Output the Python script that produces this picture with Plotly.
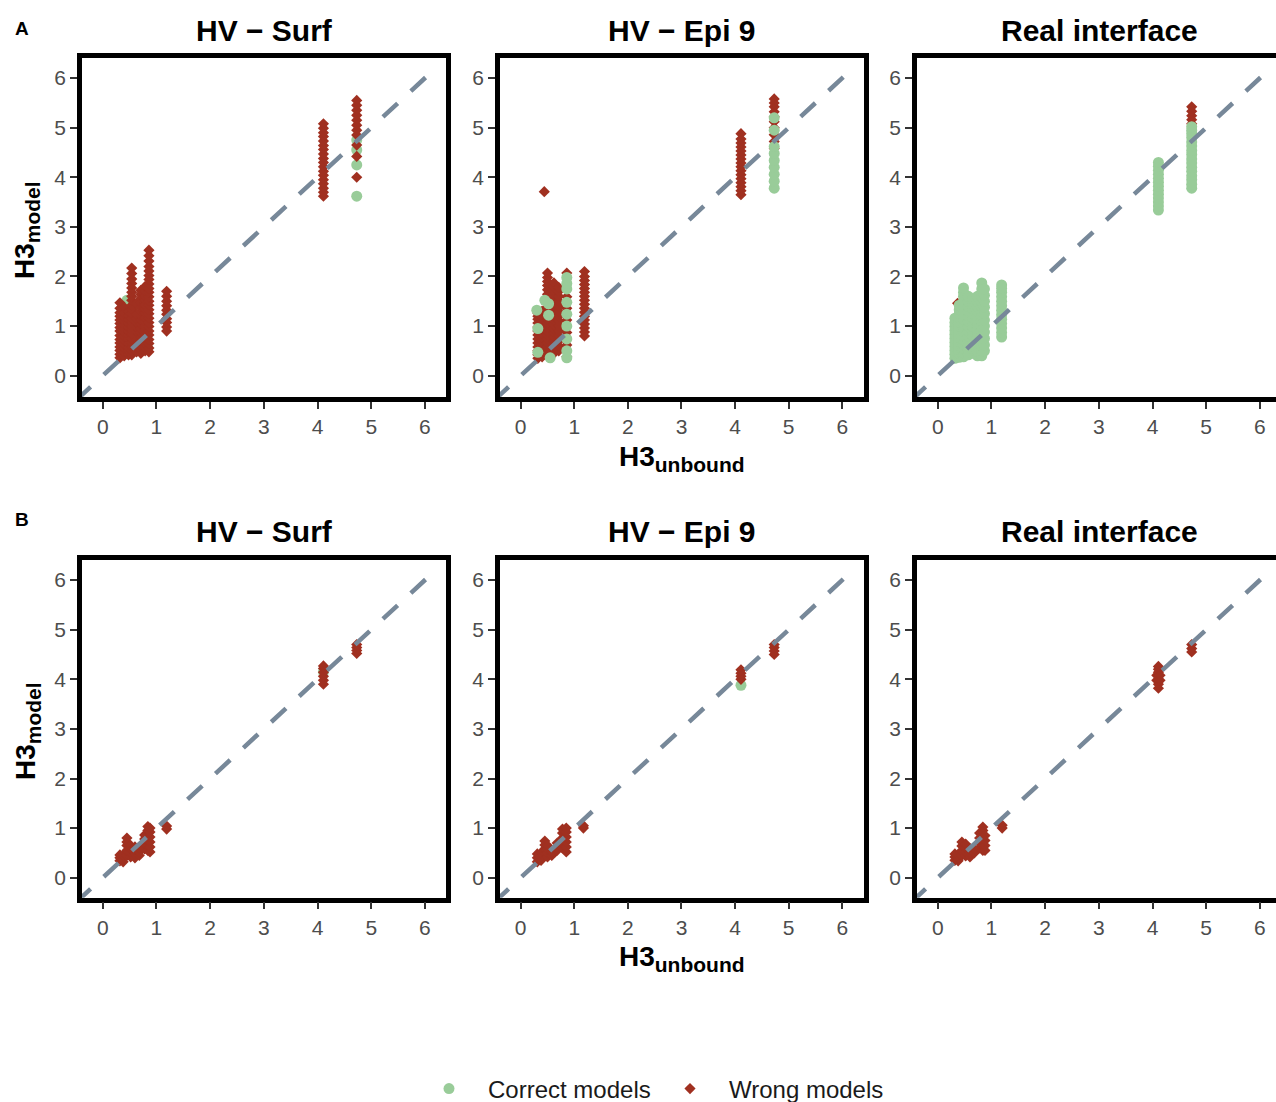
import plotly.graph_objects as go

W, H = 1276, 1102
GREEN = "#99CC99"
RED = "#A03020"
LINE = "#778899"
FONT = "Liberation Sans, Arial, sans-serif"

# ---------------- data (column x -> y values) ----------------
PANEL_TITLES = ["HV − Surf", "HV − Epi 9", "Real interface"]
ROW_LABELS = ["A", "B"]
TICKS = [0, 1, 2, 3, 4, 5, 6]
DIAG = [-0.5, 6.15]

A_SURF_CORRECT = {
    0.45: [1.52], 0.60: [1.34], 0.52: [0.95], 0.84: [0.55],
    4.73: [3.62, 4.25, 4.55, 4.75],
}
A_SURF_WRONG = {
    0.32: [0.36, 0.43, 0.51, 0.58, 0.66, 0.73, 0.81, 0.9, 0.97, 1.05, 1.12, 1.2, 1.27, 1.36, 1.47],
    0.40: [0.40, 0.47, 0.55, 0.63, 0.71, 0.8, 0.88, 0.95, 1.03, 1.1, 1.18, 1.26, 1.38],
    0.48: [0.42, 0.5, 0.57, 0.65, 0.74, 0.82, 0.9, 0.98, 1.06, 1.14, 1.22, 1.3],
    0.54: [0.42, 0.5, 0.58, 0.67, 0.75, 0.84, 0.92, 1.0, 1.08, 1.16, 1.25, 1.34, 1.42,
           1.52, 1.6, 1.68, 1.77, 1.86, 1.95, 2.06, 2.17],
    0.63: [0.48, 0.56, 0.64, 0.73, 0.81, 0.9, 0.98, 1.07, 1.15, 1.24, 1.45],
    0.71: [0.45, 0.53, 0.61, 0.7, 0.78, 0.87, 0.95, 1.04, 1.12, 1.21, 1.3, 1.38, 1.47, 1.56, 1.64, 1.72],
    0.79: [0.5, 0.58, 0.66, 0.75, 0.83, 0.92, 1.0, 1.09, 1.17, 1.26, 1.35, 1.43, 1.52, 1.6, 1.7, 1.8],
    0.86: [0.48, 0.56, 0.65, 0.73, 0.82, 0.9, 0.99, 1.07, 1.16, 1.25, 1.33, 1.42, 1.5, 1.59,
           1.68, 1.76, 1.85, 1.94, 2.02, 2.11, 2.2, 2.31, 2.42, 2.53],
    1.19: [0.9, 0.98, 1.07, 1.15, 1.24, 1.32, 1.41, 1.5, 1.6, 1.7],
    4.11: [3.62, 3.7, 3.78, 3.87, 3.95, 4.04, 4.12, 4.21, 4.3, 4.38, 4.47, 4.56, 4.64,
           4.73, 4.82, 4.9, 4.99, 5.08],
    4.73: [4.0, 4.42, 4.65, 4.85, 4.95, 5.05, 5.15, 5.25, 5.35, 5.45, 5.55],
}

A_EPI_CORRECT = {
    0.30: [1.32], 0.32: [0.47, 0.95], 0.45: [1.52], 0.52: [1.22, 1.45], 0.55: [0.36],
    0.86: [0.36, 0.5, 0.74, 1.0, 1.24, 1.48, 1.75, 1.86, 1.98],
    4.73: [3.78, 3.92, 4.06, 4.2, 4.34, 4.48, 4.62, 4.95, 5.2],
}
A_EPI_WRONG = {
    0.32: [0.35, 0.42, 0.5, 0.58, 0.66, 0.74, 0.82, 0.9, 0.98, 1.06, 1.14, 1.2, 1.26],
    0.40: [0.38, 0.46, 0.54, 0.62, 0.7, 0.78, 0.86, 0.94, 1.02, 1.1, 1.18, 1.3],
    0.44: [3.71],
    0.50: [0.42, 0.5, 0.58, 0.66, 0.74, 0.82, 0.9, 0.98, 1.06, 1.14, 1.22, 1.3, 1.38,
           1.46, 1.55, 1.64, 1.73, 1.82, 1.9, 1.98, 2.07],
    0.62: [0.45, 0.53, 0.61, 0.7, 0.78, 0.86, 0.95, 1.03, 1.12, 1.2, 1.29, 1.37, 1.46,
           1.55, 1.64, 1.72, 1.8, 1.87],
    0.71: [0.5, 0.6, 0.7, 0.8, 0.9, 1.0, 1.1, 1.2, 1.3, 1.4, 1.5, 1.6, 1.7, 1.78],
    0.86: [0.38, 0.62, 0.87, 1.12, 1.36, 1.59, 2.07],
    1.19: [0.8, 0.88, 0.96, 1.04, 1.12, 1.2, 1.28, 1.36, 1.44, 1.52, 1.6, 1.68, 1.76,
           1.84, 1.92, 2.0, 2.1],
    4.11: [3.65, 3.73, 3.81, 3.89, 3.97, 4.05, 4.13, 4.21, 4.29, 4.37, 4.45, 4.53, 4.61,
           4.69, 4.77, 4.88],
    4.73: [4.58, 4.72, 4.86, 5.0, 5.12, 5.22, 5.32, 5.42, 5.5, 5.58],
}

A_REAL_CORRECT = {
    0.32: [0.35, 0.43, 0.51, 0.59, 0.67, 0.75, 0.83, 0.91, 0.99, 1.07, 1.16],
    0.40: [0.37, 0.45, 0.53, 0.61, 0.69, 0.77, 0.85, 0.93, 1.01, 1.09, 1.17, 1.25, 1.33, 1.42],
    0.48: [0.38, 0.46, 0.55, 0.63, 0.72, 0.8, 0.89, 0.97, 1.06, 1.14, 1.23, 1.31, 1.4,
           1.5, 1.6, 1.68, 1.77],
    0.57: [0.42, 0.5, 0.6, 0.7, 0.8, 0.9, 1.0, 1.1, 1.2, 1.3, 1.4, 1.5, 1.6],
    0.65: [0.45, 0.54, 0.63, 0.72, 0.81, 0.9, 0.99, 1.08, 1.17, 1.26, 1.35, 1.45, 1.55],
    0.74: [0.4, 0.49, 0.58, 0.67, 0.76, 0.85, 0.94, 1.03, 1.12, 1.21, 1.3, 1.4, 1.5, 1.6],
    0.82: [0.4, 0.5, 0.6, 0.7, 0.8, 0.9, 1.0, 1.1, 1.2, 1.3, 1.4, 1.5, 1.6, 1.75, 1.87],
    0.87: [0.5, 0.62, 0.75, 0.88, 1.0, 1.12, 1.25, 1.38, 1.5, 1.62, 1.75],
    1.19: [0.78, 0.87, 0.96, 1.05, 1.14, 1.23, 1.32, 1.41, 1.5, 1.59, 1.68, 1.76, 1.83],
    4.11: [3.34, 3.42, 3.5, 3.58, 3.66, 3.74, 3.82, 3.9, 3.98, 4.06, 4.14, 4.22, 4.3],
    4.73: [3.78, 3.86, 3.95, 4.03, 4.12, 4.2, 4.29, 4.37, 4.46, 4.54, 4.63, 4.71, 4.8,
           4.88, 4.95, 5.02],
}
A_REAL_WRONG = {
    0.37: [1.46], 0.50: [0.4], 0.45: [0.9],
    4.73: [5.08, 5.16, 5.24, 5.33, 5.42],
}

B_SURF_CORRECT = {4.11: [4.15]}
B_SURF_WRONG = {
    0.32: [0.34, 0.4, 0.46],
    0.38: [0.32, 0.38, 0.45],
    0.45: [0.45, 0.55, 0.65, 0.72, 0.8],
    0.52: [0.42, 0.5, 0.58, 0.65],
    0.60: [0.4, 0.48, 0.56, 0.62],
    0.68: [0.45, 0.52, 0.6],
    0.78: [0.58, 0.68, 0.78, 0.86],
    0.84: [0.55, 0.65, 0.75, 0.85, 0.95, 1.03],
    0.88: [0.52, 0.62, 0.72, 0.82, 0.92, 1.0],
    1.19: [0.98, 1.04],
    4.11: [3.9, 3.98, 4.06, 4.14, 4.22, 4.27],
    4.73: [4.52, 4.58, 4.64, 4.7],
}

B_EPI_CORRECT = {4.11: [3.88]}
B_EPI_WRONG = {
    0.31: [0.32, 0.4, 0.48],
    0.38: [0.35, 0.43, 0.5],
    0.45: [0.5, 0.58, 0.66, 0.74],
    0.50: [0.42, 0.5, 0.58, 0.65],
    0.58: [0.45, 0.52],
    0.68: [0.55, 0.62, 0.7],
    0.78: [0.6, 0.7, 0.8, 0.9, 0.98],
    0.85: [0.52, 0.62, 0.72, 0.82, 0.92, 1.0],
    1.17: [1.0, 1.05],
    4.11: [4.0, 4.06, 4.12, 4.19],
    4.73: [4.5, 4.57, 4.64, 4.7],
}

B_REAL_CORRECT = {}
B_REAL_WRONG = {
    0.32: [0.35, 0.42, 0.48],
    0.38: [0.34, 0.4, 0.46],
    0.45: [0.45, 0.55, 0.64, 0.72],
    0.52: [0.44, 0.52, 0.6, 0.68],
    0.60: [0.42, 0.5, 0.58],
    0.68: [0.5, 0.58],
    0.78: [0.6, 0.7, 0.8, 0.9],
    0.84: [0.55, 0.65, 0.75, 0.85, 0.95, 1.02],
    0.88: [0.55, 0.65, 0.75, 0.85],
    1.20: [1.0, 1.06],
    4.08: [3.98, 4.08],
    4.11: [3.82, 3.9, 3.98, 4.06, 4.14, 4.2, 4.26],
    4.14: [3.98, 4.08],
    4.73: [4.55, 4.62, 4.7],
}

# draw order per panel: True -> correct drawn on top of wrong
PANELS = [
    (A_SURF_CORRECT, A_SURF_WRONG, False),
    (A_EPI_CORRECT, A_EPI_WRONG, True),
    (A_REAL_CORRECT, A_REAL_WRONG, True),
    (B_SURF_CORRECT, B_SURF_WRONG, False),
    (B_EPI_CORRECT, B_EPI_WRONG, False),
    (B_REAL_CORRECT, B_REAL_WRONG, False),
]

# ---------------- layout geometry (pixels) ----------------
X_DOM_PX = [(81.8, 446.4), (499.8, 863.7), (916.8, 1276.0)]
X_RANGES = [[-0.39, 6.40], [-0.39, 6.40], [-0.39, 6.30]]
Y_DOM_PX = [(58.0, 397.0), (559.5, 897.7)]
Y_RANGES = [[-0.43, 6.405], [-0.403, 6.415]]
PANEL_CX = [264.1, 681.7, 1099.0]


def flat(d):
    xs, ys = [], []
    for k, vals in d.items():
        for v in vals:
            xs.append(k)
            ys.append(v)
    return xs, ys


fig = go.Figure()
legend_done = {"c": False, "w": False}

for i, (corr, wrong, corr_on_top) in enumerate(PANELS):
    ax = "" if i == 0 else str(i + 1)
    xref, yref = "x" + ax, "y" + ax

    def add_corr():
        xs, ys = flat(corr)
        fig.add_trace(go.Scatter(
            x=xs, y=ys, mode="markers", name="Correct models",
            legendgroup="c", showlegend=not legend_done["c"],
            marker=dict(symbol="circle", size=11, color=GREEN, line=dict(width=0)),
            xaxis=xref, yaxis=yref, hoverinfo="skip"))
        legend_done["c"] = True

    def add_wrong():
        xs, ys = flat(wrong)
        fig.add_trace(go.Scatter(
            x=xs, y=ys, mode="markers", name="Wrong models",
            legendgroup="w", showlegend=not legend_done["w"],
            marker=dict(symbol="diamond", size=8.6, color=RED, line=dict(width=0)),
            xaxis=xref, yaxis=yref, hoverinfo="skip"))
        legend_done["w"] = True

    if i == 0:
        add_corr(); add_wrong()
    elif corr_on_top:
        add_wrong(); add_corr()
    else:
        add_corr(); add_wrong()

    fig.add_trace(go.Scatter(
        x=DIAG, y=DIAG, mode="lines", showlegend=False, hoverinfo="skip",
        line=dict(color=LINE, width=4.5, dash="20px,18px"),
        xaxis=xref, yaxis=yref))

layout = dict(
    width=W, height=H,
    margin=dict(l=0, r=0, t=0, b=0, autoexpand=False),
    paper_bgcolor="white", plot_bgcolor="white",
    font=dict(family=FONT),
    showlegend=True,
    legend=dict(orientation="h", x=410 / W, xanchor="left",
                y=1 - 1089 / H, yanchor="middle", entrywidth=158, itemwidth=68,
                font=dict(size=24, color="#1A1A1A", family=FONT),
                bgcolor="rgba(0,0,0,0)"),
)

for i in range(6):
    r, c = divmod(i, 3)
    ax = "" if i == 0 else str(i + 1)
    x0, x1 = X_DOM_PX[c]
    yt, yb = Y_DOM_PX[r]
    common = dict(showline=True, linewidth=4.5, linecolor="black",
                  ticks="outside", ticklen=7, tickwidth=2.2, tickcolor="#333333",
                  tickvals=TICKS, tickfont=dict(size=21, color="#4D4D4D", family=FONT),
                  showgrid=False, zeroline=False, fixedrange=True)
    layout["xaxis" + ax] = dict(common, domain=[x0 / W, min(1.0, x1 / W)],
                                range=X_RANGES[c], mirror=True,
                                anchor="y" + ax)
    layout["yaxis" + ax] = dict(common, domain=[1 - yb / H, 1 - yt / H],
                                range=Y_RANGES[r], mirror=(c != 2),
                                anchor="x" + ax)

fig.update_layout(**layout)

ann = []
TITLE_Y = [30, 531]
LABEL_Y = [28, 519]
YT_Y = [230, 731]
XT_Y = [458, 958]
for r in range(2):
    for c in range(3):
        ann.append(dict(text="<b>" + PANEL_TITLES[c] + "</b>", x=PANEL_CX[c] / W,
                        y=1 - TITLE_Y[r] / H, xref="paper", yref="paper",
                        showarrow=False, xanchor="center", yanchor="middle",
                        font=dict(size=30, color="black", family=FONT)))
    ann.append(dict(text="<b>" + ROW_LABELS[r] + "</b>", x=22 / W, y=1 - LABEL_Y[r] / H,
                    xref="paper", yref="paper", showarrow=False,
                    xanchor="center", yanchor="middle",
                    font=dict(size=19, color="black", family=FONT)))
    ann.append(dict(text='<b>H3<sub><span style="font-size:21px">model</span></sub></b>',
                    x=27 / W, y=1 - YT_Y[r] / H,
                    xref="paper", yref="paper", showarrow=False, textangle=-90,
                    xanchor="center", yanchor="middle",
                    font=dict(size=28, color="black", family=FONT)))
    ann.append(dict(text='<b>H3<sub><span style="font-size:21px">unbound</span></sub></b>',
                    x=682 / W, y=1 - XT_Y[r] / H,
                    xref="paper", yref="paper", showarrow=False,
                    xanchor="center", yanchor="middle",
                    font=dict(size=28, color="black", family=FONT)))
fig.update_layout(annotations=ann)

fig.write_html("out.html")
